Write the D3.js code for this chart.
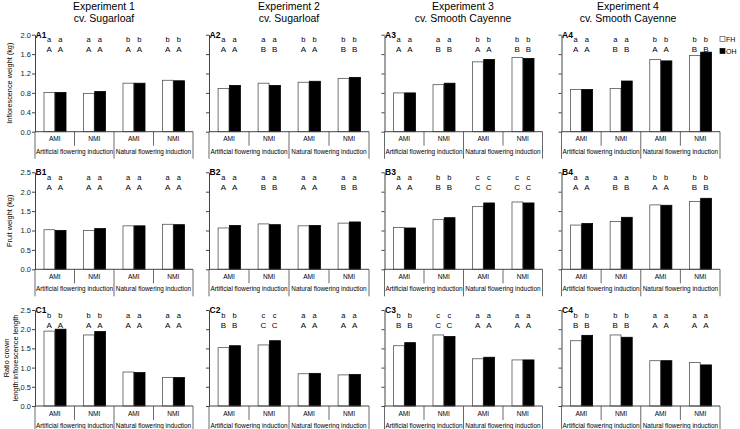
<!DOCTYPE html>
<html><head><meta charset="utf-8">
<script src="https://cdn.jsdelivr.net/npm/d3@7"></script>
<style>
body{margin:0;background:#fff;}
svg{display:block;font-family:"Liberation Sans",Arial,sans-serif;}
</style></head>
<body>
<svg id="chart" width="740" height="429"></svg>
<script>
const experiments = ["Experiment 1","Experiment 2","Experiment 3","Experiment 4"];
const cultivars = ["cv. Sugarloaf","cv. Sugarloaf","cv. Smooth Cayenne","cv. Smooth Cayenne"];
const categories = ["AMI","NMI","AMI","NMI"];
const groups = ["Artificial flowering induction","Natural flowering induction"];
const series = ["FH","OH"];
const rowLetters = ["A","B","C"];
const yTitles = [["Inflorescence weight (kg)"],["Fruit weight (kg)"],["Ratio crown","length:inflorescence length"]];
const yMax = [2.0, 2.5, 2.5];
const yTicks = [[0,0.4,0.8,1.2,1.6,2.0],[0,0.5,1.0,1.5,2.0,2.5],[0,0.5,1.0,1.5,2.0,2.5]];

// Inflorescence weight (kg) — per experiment, per category
const inflFH = [[0.81,0.79,1.00,1.06],[0.89,1.00,1.02,1.10],[0.80,0.97,1.44,1.53],[0.87,0.89,1.49,1.57]];
const inflOH = [[0.81,0.83,1.00,1.05],[0.955,0.955,1.04,1.12],[0.80,1.00,1.49,1.51],[0.87,1.045,1.46,1.64]];
// Fruit weight (kg)
const fruitFH = [[1.02,1.00,1.12,1.16],[1.065,1.17,1.12,1.19],[1.08,1.28,1.615,1.735],[1.14,1.23,1.66,1.75]];
const fruitOH = [[1.00,1.05,1.12,1.15],[1.13,1.15,1.13,1.22],[1.065,1.33,1.71,1.71],[1.18,1.34,1.65,1.83]];
// Ratio crown length : inflorescence length
const ratioFH = [[1.95,1.85,0.885,0.74],[1.52,1.59,0.84,0.81],[1.57,1.85,1.23,1.20],[1.70,1.85,1.18,1.135]];
const ratioOH = [[2.00,1.94,0.87,0.74],[1.57,1.70,0.85,0.82],[1.65,1.81,1.27,1.20],[1.84,1.79,1.18,1.07]];

// Significance letters (same for both bars of a category)
const lowerA = [["a","a","b","b"],["a","a","b","b"],["a","a","b","b"],["a","a","b","b"]];
const upperA = [["A","A","A","A"],["A","B","A","B"],["A","B","A","B"],["A","B","A","B"]];
const lowerB = [["a","a","a","a"],["a","a","a","a"],["a","b","c","c"],["a","a","b","b"]];
const upperB = [["A","A","A","A"],["A","B","A","B"],["A","B","C","C"],["A","B","A","B"]];
const lowerC = [["b","b","a","a"],["b","c","a","a"],["b","c","a","a"],["b","b","a","a"]];
const upperC = [["A","A","A","A"],["B","C","A","A"],["B","C","A","A"],["B","B","A","A"]];

const rowsData = [
  {fh: inflFH, oh: inflOH, lo: lowerA, up: upperA},
  {fh: fruitFH, oh: fruitOH, lo: lowerB, up: upperB},
  {fh: ratioFH, oh: ratioOH, lo: lowerC, up: upperC}
];

// layout
const colX = [[35,193],[209,369],[384.5,542.5],[561.5,720]];
const rowY = [[34.7,131.7],[172.3,269.3],[310,406]];
const titleCx = [104,289,463,628];

const svg = d3.select("#chart");
const ink = "#000";

// titles
experiments.forEach((e,i)=>{
  svg.append("text").attr("x",titleCx[i]).attr("y",10).attr("text-anchor","middle")
    .attr("font-size",10.5).attr("fill",ink).text(e);
  svg.append("text").attr("x",titleCx[i]).attr("y",22).attr("text-anchor","middle")
    .attr("font-size",10.5).attr("fill",ink).text(cultivars[i]);
});

rowsData.forEach((rd, r)=>{
  const [top,bottom] = rowY[r];
  const y = d3.scaleLinear().domain([0,yMax[r]]).range([bottom,top]);
  for(let c=0;c<4;c++){
    const [x0,x1] = colX[c];
    const x = d3.scaleBand().domain(d3.range(4)).range([x0,x1]).paddingInner(0).paddingOuter(0);
    const bw = x.bandwidth();
    const xs = d3.scaleBand().domain(series).range([bw*0.215, bw*0.785]).padding(0);
    const g = svg.append("g");

    // y axis
    const ax = d3.axisLeft(y).tickValues(yTicks[r]).tickSize(3).tickSizeOuter(0)
      .tickFormat(c===0 ? d3.format(".1f") : ()=>"");
    const ag = g.append("g").attr("transform",`translate(${x0},0)`).call(ax);
    ag.select(".domain").attr("stroke","#444");
    ag.selectAll(".tick line").attr("stroke","#444");
    ag.selectAll(".tick text").attr("font-size",7.5).attr("fill","#222")
      .attr("font-family","Liberation Sans, Arial, sans-serif").attr("x",-4);

    // bars
    const vals = [rd.fh[c], rd.oh[c]];
    series.forEach((s,si)=>{
      g.selectAll(null).data(vals[si]).enter().append("rect")
        .attr("x",(d,i)=>x(i)+xs(s)+0.5)
        .attr("y",d=>y(d))
        .attr("width",xs.bandwidth()-0.5)
        .attr("height",d=>y(0)-y(d))
        .attr("fill", si===0 ? "#fff" : "#000")
        .attr("stroke", si===0 ? "#555" : "#000")
        .attr("stroke-width",0.8);
      // letters
      g.selectAll(null).data(rd.lo[c]).enter().append("text")
        .attr("x",(d,i)=>x(i)+xs(s)+xs.bandwidth()/2).attr("y",top+7.5)
        .attr("text-anchor","middle").attr("font-size",7.5).attr("fill",ink).text(d=>d);
      g.selectAll(null).data(rd.up[c]).enter().append("text")
        .attr("x",(d,i)=>x(i)+xs(s)+xs.bandwidth()/2).attr("y",top+17.5)
        .attr("text-anchor","middle").attr("font-size",8).attr("fill",ink).text(d=>d);
    });

    // x axis line
    g.append("line").attr("x1",x0).attr("x2",x1).attr("y1",bottom).attr("y2",bottom)
      .attr("stroke","#444").attr("stroke-width",1);
    // category separators
    for(let k=0;k<=4;k++){
      const xx = k<4 ? x(k) : x1;
      const len = (k%2===0) ? 27 : 14;
      g.append("line").attr("x1",xx).attr("x2",xx).attr("y1",bottom).attr("y2",Math.min(bottom+len,429))
        .attr("stroke","#444").attr("stroke-width",0.8);
    }
    g.selectAll(null).data(categories).enter().append("text")
      .attr("x",(d,i)=>x(i)+bw/2).attr("y",bottom+9.5).attr("text-anchor","middle")
      .attr("font-size",6.6).attr("fill",ink).text(d=>d);
    g.selectAll(null).data(groups).enter().append("text")
      .attr("x",(d,i)=>x(i*2)+bw).attr("y",bottom+22).attr("text-anchor","middle")
      .attr("font-size",6.4).attr("fill",ink).text(d=>d);

    // panel label
    g.append("text").attr("x",x0+0.5).attr("y",top+3).attr("font-size",8.5).attr("font-weight","bold")
      .attr("fill",ink).text(rowLetters[r]+(c+1));
  }
  // y title
  const lines = yTitles[r];
  const cy = (top+bottom)/2;
  const t = svg.append("text").attr("transform",`translate(${lines.length>1?9:12},${cy}) rotate(-90)`)
    .attr("text-anchor","middle").attr("font-size",7.3).attr("fill",ink);
  lines.forEach((l,li)=>{
    t.append("tspan").attr("x",0).attr("dy",li===0?0:9).text(l);
  });
});

// legend
const leg = svg.append("g");
series.forEach((s,i)=>{
  const yy = 39 + i*12;
  leg.append("rect").attr("x",720).attr("y",yy-2.5).attr("width",5).attr("height",5)
    .attr("fill", i===0?"#fff":"#000").attr("stroke", i===0?"#555":"#000").attr("stroke-width",0.7);
  leg.append("text").attr("x",726).attr("y",yy+2.5).attr("font-size",7).attr("fill",ink).text(s);
});
</script>
</body></html>
